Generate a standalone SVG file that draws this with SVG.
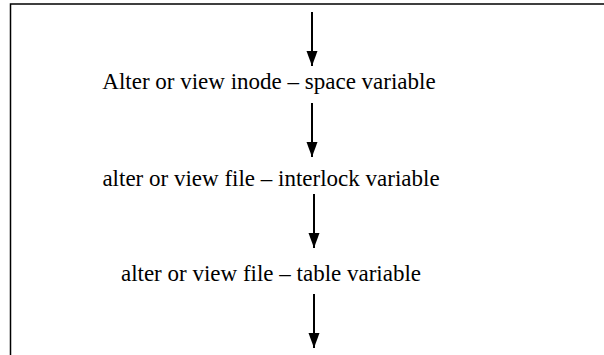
<svg xmlns="http://www.w3.org/2000/svg" width="604" height="355" viewBox="0 0 604 355">
  <style>
    .label { font-family: "Liberation Serif", "Times New Roman", serif; font-size: 23px; fill: #000; text-anchor: middle; }
    .frame { stroke: #000; stroke-width: 1.5; fill: none; }
    .flow { stroke: #000; stroke-width: 2; fill: none; marker-end: url(#head); }
  </style>
  <defs>
    <!-- solid arrowhead drawn along +x; tip sits at the line end -->
    <marker id="head" markerUnits="userSpaceOnUse" markerWidth="16" markerHeight="12" refX="15" refY="6" orient="auto" viewBox="0 0 16 12">
      <path d="M0,0.5 L15,6 L0,11.5 Z" fill="#000"/>
    </marker>
  </defs>
  <rect width="604" height="355" fill="#fff"/>
  <!-- frame: top and left edges -->
  <path class="frame" d="M10.5,355 V4 H604"/>
  <g id="connectors">
    <line class="flow" x1="312" y1="12" x2="312" y2="66"/>
    <line class="flow" x1="312" y1="103" x2="312" y2="157"/>
    <line class="flow" x1="314" y1="194" x2="314" y2="248"/>
    <line class="flow" x1="314" y1="294" x2="314" y2="348"/>
  </g>
  <g id="node-inode-space">
    <text class="label" x="269" y="89">Alter or view inode – space variable</text>
  </g>
  <g id="node-file-interlock">
    <text class="label" x="271" y="186">alter or view file – interlock variable</text>
  </g>
  <g id="node-file-table">
    <text class="label" x="271" y="281">alter or view file – table variable</text>
  </g>
</svg>
